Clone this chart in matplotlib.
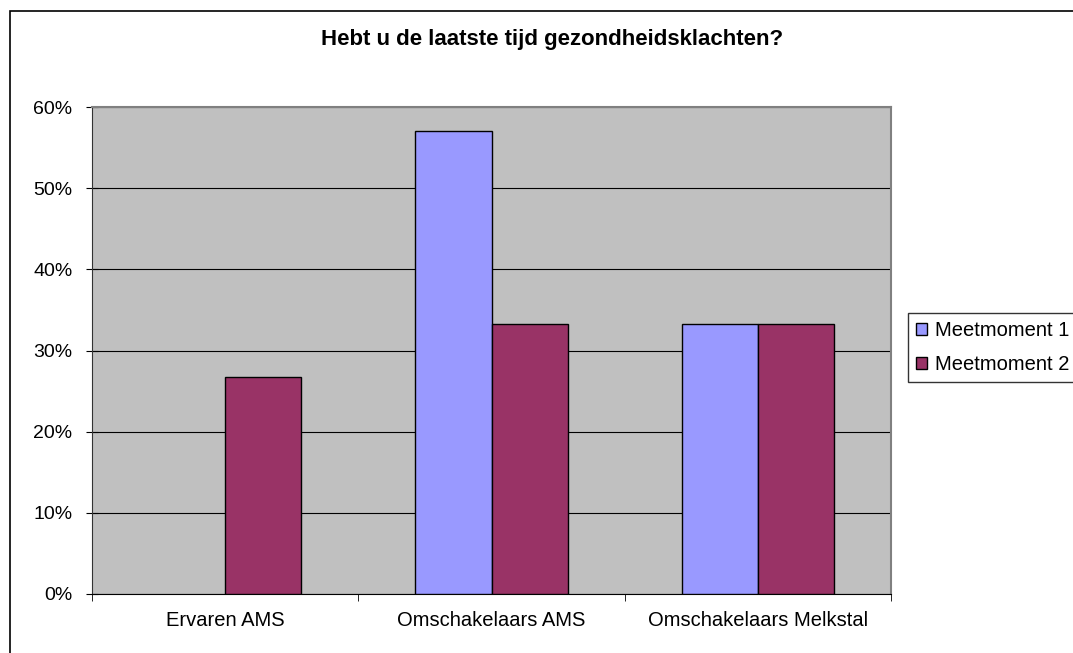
import matplotlib.pyplot as plt
import numpy as np
from matplotlib.patches import Rectangle, Patch
from matplotlib.ticker import FuncFormatter, MultipleLocator

plt.rcParams['font.family'] = ['Liberation Sans', 'DejaVu Sans']

categories = ["Ervaren AMS", "Omschakelaars AMS", "Omschakelaars Melkstal"]
series_names = ["Meetmoment 1", "Meetmoment 2"]
meet1 = [0.0, 57.1, 33.3]
meet2 = [26.7, 33.3, 33.3]
colors = ["#9999FF", "#993366"]

W, H = 1073, 653
fig = plt.figure(figsize=(W / 100, H / 100), dpi=100)

# chart border (runs off the right and bottom of the picture)
fig.patches.append(Rectangle((10 / W, -0.1), 1.2, 1 - 11 / H + 0.1, transform=fig.transFigure,
                             fill=False, edgecolor="black", lw=1.2))

ax = fig.add_axes([92 / W, 1 - 594 / H, (891 - 92) / W, (594 - 107) / H])
ax.set_facecolor("#C0C0C0")

x = np.arange(len(categories))
bw = 0.286
b1 = ax.bar(x - bw / 2, meet1, bw, color=colors[0], edgecolor="black", lw=1, zorder=3)
b2 = ax.bar(x + bw / 2, meet2, bw, color=colors[1], edgecolor="black", lw=1, zorder=3)
# empty bars get no outline
for p in list(b1) + list(b2):
    if p.get_height() == 0:
        p.set_visible(False)

ax.set_xlim(-0.5, len(categories) - 0.5)
ax.set_ylim(0, 60)
ax.yaxis.set_major_locator(MultipleLocator(10))
ax.yaxis.set_major_formatter(FuncFormatter(lambda v, p: f"{v:.0f}%"))
ax.grid(axis="y", color="black", lw=0.8, zorder=1)
ax.set_axisbelow(True)

ax.set_xticks(x)
ax.set_xticklabels(categories, fontsize=14.5)
ax.set_xticks(np.arange(len(categories) + 1) - 0.5, minor=True)
ax.tick_params(axis="x", which="major", length=0, pad=12)
ax.tick_params(axis="x", which="minor", length=5, direction="out", color="black")
ax.tick_params(axis="y", length=8, direction="inout", labelsize=14, pad=10, color="black")

for s in ["top", "right"]:
    ax.spines[s].set_color("#808080")
    ax.spines[s].set_linewidth(1.5)
ax.spines["left"].set_color("#333333")
ax.spines["bottom"].set_color("black")

fig.text(552 / W, 1 - 40 / H, "Hebt u de laatste tijd gezondheidsklachten?",
         ha="center", va="center", fontsize=16, fontweight="bold")

handles = [Patch(facecolor=c, edgecolor="black", lw=1) for c in colors]
leg = fig.legend(handles, series_names, loc="upper left", bbox_to_anchor=(908 / W, 1 - 313 / H),
                 borderaxespad=0, fontsize=14.5, frameon=True, fancybox=False, edgecolor="black",
                 handlelength=0.55, handleheight=0.55, handletextpad=0.4, borderpad=0.4,
                 labelspacing=0.75)
leg.get_frame().set_linewidth(1)

fig.savefig("out.png", dpi=100)
